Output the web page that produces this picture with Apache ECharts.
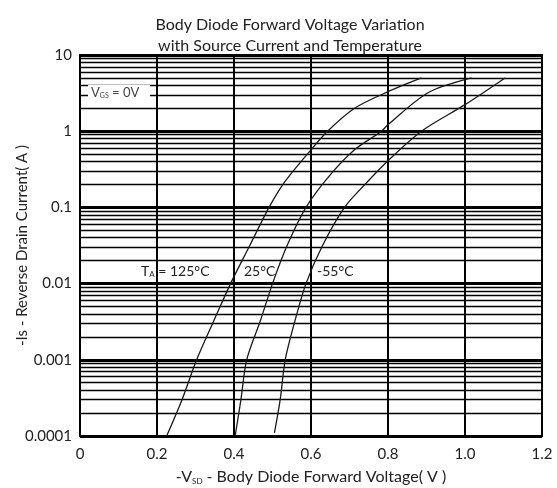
<!DOCTYPE html>
<html>
<head>
<meta charset="utf-8">
<script src="https://cdn.jsdelivr.net/npm/echarts@6/dist/echarts.min.js"></script>
<style>
html,body{margin:0;padding:0;background:#fff;}
#c{width:557px;height:488px;}
</style>
</head>
<body>
<div id="c"></div>
<script>
// ---- data ----
const xTicks = [0, 0.2, 0.4, 0.6, 0.8, 1.0, 1.2];
const yTickLabels = ['0.0001', '0.001', '0.01', '0.1', '1', '10'];
const decades = [0.0001, 0.001, 0.01, 0.1, 1];
const minorMultipliers = [2, 3, 4, 5, 6, 7, 8, 9];

const t125V = [0.225, 0.265, 0.303, 0.347, 0.391, 0.441, 0.491, 0.53, 0.6, 0.643, 0.713, 0.8, 0.887];
const t125I = [0.0001, 0.0003, 0.001, 0.0032, 0.01, 0.0316, 0.1, 0.21, 0.57, 1, 2.0, 3.3, 5.0];

const t25V = [0.403, 0.418, 0.433, 0.468, 0.50, 0.538, 0.587, 0.645, 0.713, 0.783, 0.8, 0.904, 1.017];
const t25I = [0.0001, 0.0003, 0.001, 0.0032, 0.01, 0.0316, 0.1, 0.25, 0.57, 1, 1.22, 3.2, 5.0];

const tm55V = [0.505, 0.52, 0.533, 0.558, 0.587, 0.63, 0.687, 0.74, 0.8, 0.887, 1.0, 1.104];
const tm55I = [0.00011, 0.0003, 0.001, 0.0032, 0.01, 0.0316, 0.1, 0.2, 0.41, 1, 2.23, 5.0];

// ---- build ----
const zip = (a, b) => a.map((v, i) => [v, b[i]]);
const xMin = xTicks[0], xMax = xTicks[xTicks.length - 1];
const minorLines = [];
decades.forEach(d => minorMultipliers.forEach(m => minorLines.push({ coords: [[xMin, d * m], [xMax, d * m]] })));

const FONT = 'Lato';
const TXT = '#222';

const chart = echarts.init(document.getElementById('c'), null, { renderer: 'canvas' });

const curveStyle = { color: '#1a1a1a', width: 1.3 };

chart.setOption({
  animation: false,
  backgroundColor: '#fff',
  title: {
    text: 'Body Diode Forward Voltage Variation\nwith Source Current and Temperature',
    left: 285, top: 9, textAlign: 'center',
    textStyle: { fontFamily: FONT, fontSize: 16, fontWeight: 'normal', color: TXT, lineHeight: 21 }
  },
  grid: { left: 80, right: 15, top: 55, bottom: 52, show: true, borderColor: '#000', borderWidth: 2,
          containLabel: false, outerBoundsMode: 'none' },
  xAxis: {
    type: 'value', min: xMin, max: xMax, interval: 0.2,
    name: '{m|-V}{s|SD}{m| - Body Diode Forward Voltage( V )}',
    nameLocation: 'middle', nameGap: 33, nameMoveOverlap: false,
    nameTextStyle: { rich: {
      m: { fontFamily: FONT, fontSize: 16, color: TXT },
      s: { fontFamily: FONT, fontSize: 8, color: TXT, padding: [8, 0, 0, 0] } } },
    axisLine: { show: true, lineStyle: { color: '#000', width: 2 } },
    axisTick: { show: false },
    axisLabel: { fontFamily: FONT, fontSize: 15, color: TXT, margin: 11,
      formatter: v => { const t = xTicks.find(x => Math.abs(x - v) < 1e-6); return t === undefined ? '' : (t === 0 ? '0' : t.toFixed(1)); } },
    splitLine: { show: true, lineStyle: { color: '#000', width: 2 } }
  },
  yAxis: {
    type: 'log', logBase: 10, min: 0.0001, max: 10,
    name: '-Is - Reverse Drain Current( A )',
    nameLocation: 'middle', nameGap: 50, nameRotate: 90, nameMoveOverlap: false,
    nameTextStyle: { fontFamily: FONT, fontSize: 15, color: TXT },
    axisLine: { show: true, lineStyle: { color: '#000', width: 2 } },
    axisTick: { show: false },
    axisLabel: { fontFamily: FONT, fontSize: 15, color: TXT, margin: 8,
      formatter: v => { const k = Math.round(Math.log10(v)) + 4; return yTickLabels[k] !== undefined ? yTickLabels[k] : ''; } },
    splitLine: { show: true, lineStyle: { color: '#000', width: 3 } }
  },
  series: [
    {
      type: 'lines', coordinateSystem: 'cartesian2d', silent: true, z: 1,
      lineStyle: { color: '#000', width: 1.4, opacity: 1 },
      data: minorLines
    },
    { name: '125', type: 'line', data: zip(t125V, t125I), smooth: 0.3, showSymbol: false, lineStyle: curveStyle, z: 5 },
    { name: '25', type: 'line', data: zip(t25V, t25I), smooth: 0.3, showSymbol: false, lineStyle: curveStyle, z: 5 },
    { name: '-55', type: 'line', data: zip(tm55V, tm55I), smooth: 0.3, showSymbol: false, lineStyle: curveStyle, z: 5 }
  ],
  graphic: [
    { type: 'rect', left: 88, top: 85, shape: { width: 62, height: 16 }, style: { fill: '#fff' }, z: 50 },
    { type: 'text', left: 91, top: 86, z: 51,
      style: { text: '{m|V}{s|GS}{m| = 0V}', fill: TXT,
        rich: { m: { fontFamily: FONT, fontSize: 13, fill: '#444' }, s: { fontFamily: FONT, fontSize: 7, fill: '#444', padding: [6, 0, 0, 0] } } } },
    { type: 'text', left: 141, top: 264, z: 51,
      style: { text: '{m|T}{s|A}{m| = 125°C}', fill: TXT,
        rich: { m: { fontFamily: FONT, fontSize: 14, fill: TXT }, s: { fontFamily: FONT, fontSize: 8, fill: TXT, padding: [7, 0, 0, 0] } } } },
    { type: 'text', left: 244, top: 264, z: 51, style: { text: '25°C', fill: TXT, font: '14px Lato' } },
    { type: 'text', left: 317, top: 264, z: 51, style: { text: '-55°C', fill: TXT, font: '14px Lato' } }
  ]
});
</script>
</body>
</html>
